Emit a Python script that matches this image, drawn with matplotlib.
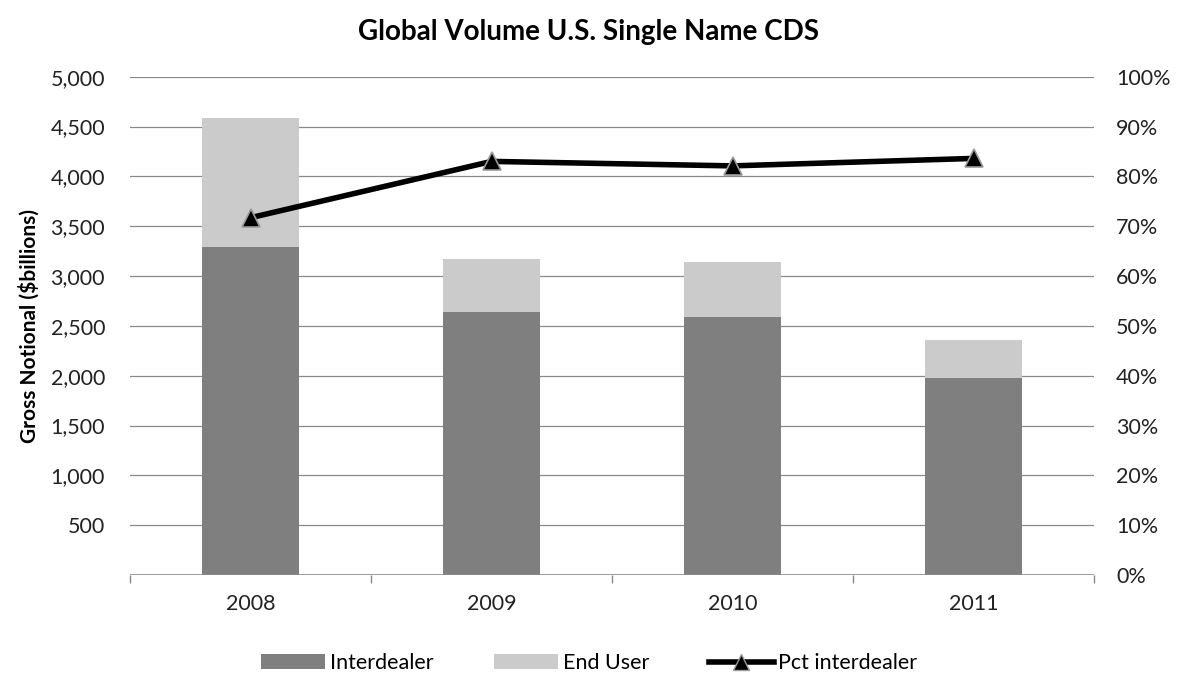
import matplotlib.pyplot as plt
from matplotlib.ticker import FuncFormatter, FixedLocator
from matplotlib.lines import Line2D
from matplotlib.patches import Patch

years = ['2008', '2009', '2010', '2011']
interdealer = [3290, 2640, 2590, 1975]
end_user = [1300, 535, 555, 385]
pct_interdealer = [71.7, 83.0, 82.1, 83.6]

plt.rcParams['font.family'] = ['Lato', 'DejaVu Sans']

fig = plt.figure(figsize=(11.78, 6.75), dpi=100)
ax = fig.add_axes([0.1104, 0.1481, 0.8183, 0.7383])

dark = '#7f7f7f'
light = '#cbcbcb'
x = list(range(len(years)))

ax.bar(x, interdealer, width=0.4, color=dark, zorder=2)
ax.bar(x, end_user, width=0.4, bottom=interdealer, color=light, zorder=2)

ax.set_xlim(-0.5, len(years) - 0.5)
ax.set_ylim(0, 5000)
ax.set_yticks(range(500, 5001, 500))
ax.yaxis.set_major_formatter(FuncFormatter(lambda v, p: f'{int(v):,}'))
ax.grid(axis='y', color='#8a8a8a', linewidth=0.9, zorder=0)
ax.axhline(0, color='#8a8a8a', linewidth=1.2, zorder=3)
ax.set_axisbelow(True)

for s in ['top', 'left', 'right', 'bottom']:
    ax.spines[s].set_visible(False)

ax.set_xticks(x)
ax.set_xticklabels(years)
ax.xaxis.set_minor_locator(FixedLocator([i - 0.5 for i in range(len(years) + 1)]))
ax.tick_params(axis='x', which='major', length=0, pad=14, labelsize=15.5, colors='#222222')
ax.tick_params(axis='x', which='minor', length=6, color='#8a8a8a', width=1)
ax.tick_params(axis='y', length=0, pad=18, labelsize=15.5, colors='#222222')
ax.set_ylabel('Gross Notional ($billions)', fontsize=15, fontweight='bold', labelpad=8)

ax2 = ax.twinx()
ax2.set_ylim(0, 100)
ax2.set_yticks(range(0, 101, 10))
ax2.yaxis.set_major_formatter(FuncFormatter(lambda v, p: f'{int(v)}%'))
ax2.tick_params(axis='y', length=0, pad=16, labelsize=15.5, colors='#222222')
for s in ['top', 'left', 'right', 'bottom']:
    ax2.spines[s].set_visible(False)
ax2.plot(x, pct_interdealer, color='black', linewidth=4, marker='^', markersize=13,
         markerfacecolor='black', markeredgecolor='#9a9a9a', markeredgewidth=1.2, zorder=4)

fig.suptitle('Global Volume U.S. Single Name CDS', fontsize=20, fontweight='bold', y=0.972)

handles = [
    Patch(facecolor=dark, label='Interdealer'),
    Patch(facecolor=light, label='End User'),
    Line2D([0], [0], color='black', linewidth=4, marker='^', markersize=12,
           markerfacecolor='black', markeredgecolor='#9a9a9a', label='Pct interdealer'),
]
fig.legend(handles=handles, loc='lower center', bbox_to_anchor=(0.5, -0.026), ncol=3,
           frameon=False, fontsize=15.5, handlelength=3.0, handletextpad=0.2, columnspacing=2.8)

fig.savefig('out.png', dpi=100)
